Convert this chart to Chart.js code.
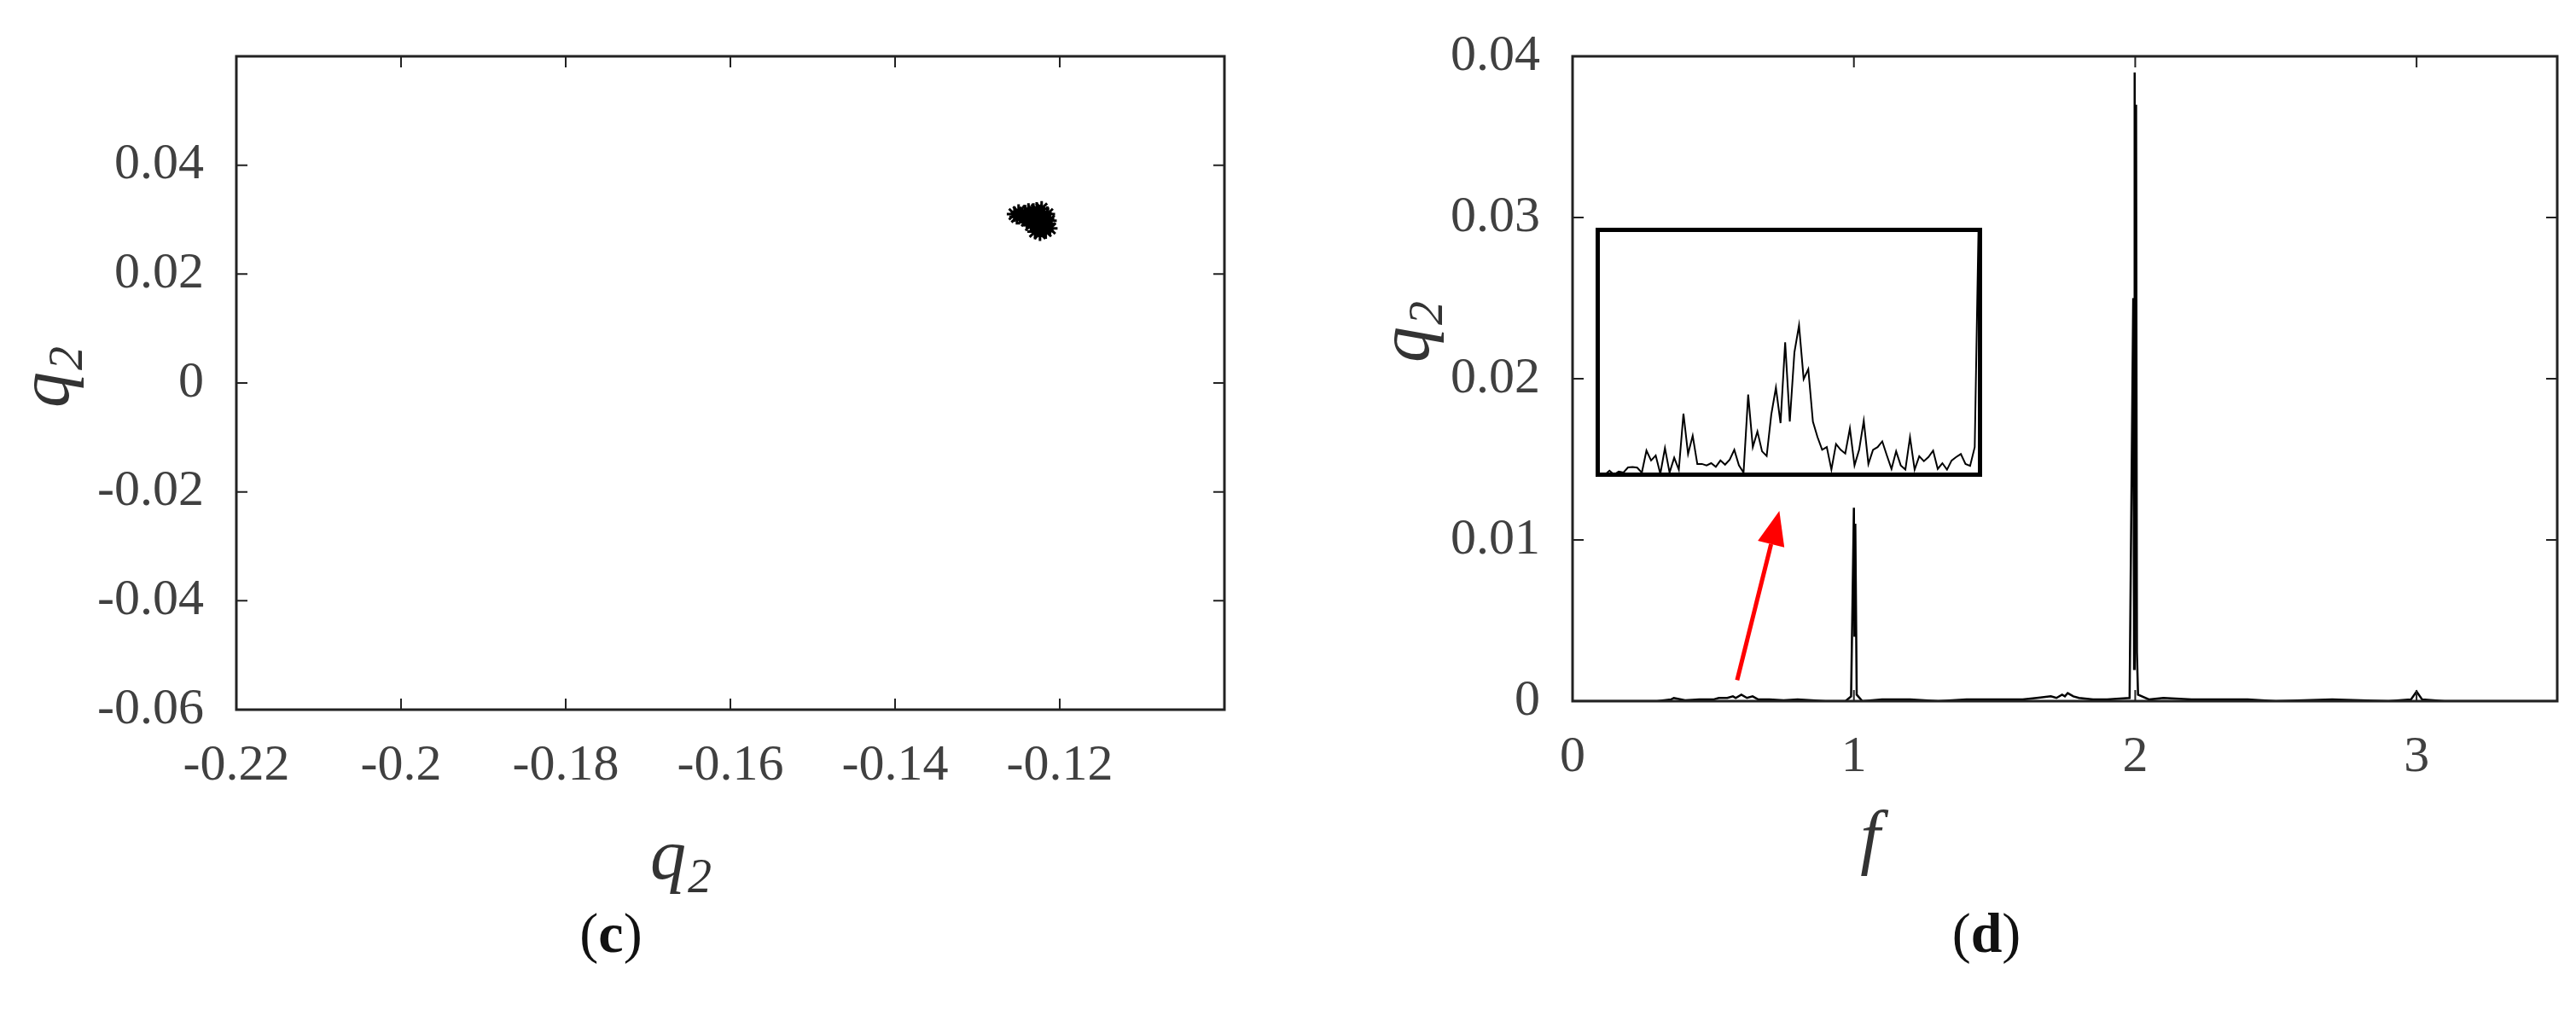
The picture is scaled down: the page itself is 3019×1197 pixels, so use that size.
<!DOCTYPE html>
<html><head><meta charset="utf-8">
<script src="https://cdn.jsdelivr.net/npm/chart.js@4/dist/chart.umd.min.js"></script>
<style>
body{margin:0;background:#fff;width:3019px;height:1197px;overflow:hidden;position:relative;font-family:"Liberation Serif",serif}
.w{position:absolute}
</style></head><body>
<div class="w" style="left:0;top:0;width:1500px;height:1197px"><canvas id="c1"></canvas></div>
<div class="w" style="left:1500px;top:0;width:1519px;height:1197px"><canvas id="c2"></canvas></div>
<div class="w" style="left:1870px;top:267px;width:453px;height:292px"><canvas id="c3"></canvas></div>
<script>
// Panel (c): phase portrait cluster
const phaseX = [-0.1255,-0.1250,-0.1246,-0.1242,-0.1238,-0.1252,-0.1244,-0.1236,-0.1232,-0.1228,-0.1224,-0.1220,-0.1216,-0.1213,-0.1230,-0.1226,-0.1222,-0.1218,-0.1214,-0.1234,-0.1228,-0.1222,-0.1217,-0.1212,-0.1230,-0.1224,-0.1219,-0.1226,-0.1220,-0.1240,-0.1235,-0.1229,-0.1215,-0.1222];
const phaseY = [0.0310,0.0314,0.0307,0.0313,0.0316,0.0305,0.0302,0.0309,0.0316,0.0318,0.0312,0.0308,0.0303,0.0298,0.0300,0.0295,0.0290,0.0287,0.0292,0.0294,0.0286,0.0282,0.0279,0.0284,0.0278,0.0275,0.0283,0.0305,0.0299,0.0298,0.0290,0.0310,0.0310,0.0320];
const xTicksC = [-0.22,-0.2,-0.18,-0.16,-0.14,-0.12];
const yTicksC = [-0.06,-0.04,-0.02,0,0.02,0.04];
// Panel (d): spectrum
const freqs = [0,0.2,0.3,0.35,0.36,0.4,0.45,0.5,0.52,0.55,0.57,0.58,0.6,0.62,0.64,0.66,0.7,0.75,0.8,0.9,0.97,0.99,0.995,1.0,1.002,1.005,1.01,1.03,1.1,1.2,1.3,1.4,1.5,1.55,1.6,1.65,1.7,1.72,1.74,1.75,1.76,1.78,1.8,1.85,1.9,1.98,1.993,1.996,1.998,2.0,2.003,2.006,2.01,2.05,2.1,2.2,2.3,2.4,2.5,2.7,2.9,2.98,3.0,3.02,3.1,3.3,3.5];
const amps = [0,0,0,0.0001,0.0002,0.00005,0.0001,0.0001,0.0002,0.0002,0.0003,0.0002,0.0004,0.0002,0.0003,0.0001,0.0001,0.00005,0.0001,0,0,0.0003,0.006,0.012,0.004,0.011,0.0004,0,0.0001,0.0001,0,0.0001,0.0001,0.0001,0.0001,0.0002,0.0003,0.0002,0.0004,0.0003,0.0005,0.0003,0.0002,0.0001,0.0001,0.0002,0.025,0.002,0.039,0.015,0.037,0.003,0.0004,0.0001,0.0002,0.0001,0.0001,0.0001,0,0.0001,0,0.0001,0.0006,0.0001,0,0,0];
const xTicksD = [0,1,2,3];
const yTicksD = [0,0.01,0.02,0.03,0.04];
// Inset: zoomed low-frequency band (relative amplitude)
const insetAmps = [0.6,0.3,1.9,0.3,1.5,1.1,3.2,3.4,3.1,1.1,10,6,8,0.6,11,1.1,7.1,2.3,24.9,8.6,16,4.6,4.6,4,4.9,3.4,6,4.3,6.3,10.3,4,1.1,32.6,11.4,17.7,9.7,7.8,24.6,35.4,21.1,53.7,21.7,49.7,60.6,38.9,42.9,21.7,15.4,10.3,11.4,2.3,12.6,10.3,8.8,18.9,4,10.3,22,4.6,10.3,11.4,13.7,8,2.6,9.7,4,2.3,15.4,2.3,7.7,5.7,7.4,10,2.6,4.9,2.3,6,7.4,8.6,4.6,3.8,11.4,120];

const FONT = '"Liberation Serif", serif';
const TICKCOL = '#404040';
function fmt(v){return String(Number(v.toFixed(3)));}

function frame(xt, yt, extra){
  return {id:'frame', afterDraw(ch){
    const c=ch.ctx, a=ch.chartArea, xs=ch.scales.x, ys=ch.scales.y;
    c.save(); c.strokeStyle='#222'; c.lineWidth=3;
    c.strokeRect(a.left,a.top,a.right-a.left,a.bottom-a.top);
    c.lineWidth=2; c.beginPath();
    xt.forEach(v=>{const p=xs.getPixelForValue(v); c.moveTo(p,a.bottom); c.lineTo(p,a.bottom-13); c.moveTo(p,a.top); c.lineTo(p,a.top+13);});
    yt.forEach(v=>{const p=ys.getPixelForValue(v); c.moveTo(a.left,p); c.lineTo(a.left+13,p); c.moveTo(a.right,p); c.lineTo(a.right-13,p);});
    c.stroke(); c.restore();
    if(extra) extra(ch);
  }};
}
function q2(c,x,y,rot){
  c.save(); c.translate(x,y); if(rot) c.rotate(-Math.PI/2);
  c.fillStyle='#333'; c.textBaseline='alphabetic';
  c.font='italic 84px '+FONT; c.textAlign='right'; c.fillText('q',4,20);
  c.font='italic 56px '+FONT; c.textAlign='left'; c.fillText('2',6,36);
  c.restore();
}
function label(c,x,y,letter){
  c.save(); c.fillStyle='#111'; c.textBaseline='middle';
  c.font='66px '+FONT; const w1=c.measureText('(').width;
  c.font='bold 66px '+FONT; const w2=c.measureText(letter).width;
  c.font='66px '+FONT; const w3=c.measureText(')').width;
  let s=x-(w1+w2+w3)/2; c.textAlign='left';
  c.fillText('(',s,y); c.font='bold 66px '+FONT; c.fillText(letter,s+w1,y);
  c.font='66px '+FONT; c.fillText(')',s+w1+w2,y); c.restore();
}
function axes(xmin,xmax,ymin,ymax,xstep,ystep,xw,yh,hideX,hideY){
  return {
    x:{type:'linear',min:xmin,max:xmax,grid:{display:false},border:{display:false},
       afterFit(s){s.height=yh;},
       ticks:{stepSize:xstep,includeBounds:false,padding:22,color:TICKCOL,font:{family:FONT,size:60},maxRotation:0,autoSkip:false,
         callback:v=>hideX(v)?'':fmt(v)}},
    y:{type:'linear',min:ymin,max:ymax,grid:{display:false},border:{display:false},
       afterFit(s){s.width=xw;},
       ticks:{stepSize:ystep,includeBounds:false,padding:30,color:TICKCOL,font:{family:FONT,size:60},autoSkip:false,
         callback:v=>hideY(v)?'':fmt(v)}}
  };
}
Chart.defaults.devicePixelRatio=1;

new Chart(document.getElementById('c1'),{
  type:'scatter',
  data:{datasets:[{data:phaseX.map((x,i)=>({x,y:phaseY[i]})),pointStyle:'star',pointRadius:9,borderColor:'#000',backgroundColor:'#000',borderWidth:3}]},
  options:{responsive:true,maintainAspectRatio:false,animation:false,
    layout:{padding:{left:0,right:65,top:43,bottom:0}},
    plugins:{legend:{display:false},tooltip:{enabled:false}},
    scales:axes(-0.22,-0.10,-0.06,0.06,0.02,0.02,277,365,v=>v>-0.11,v=>v>0.05)},
  plugins:[frame(xTicksC,yTicksC,ch=>{const c=ch.ctx; q2(c,800,1010,false); q2(c,60,440,true); label(c,716,1099,'c');})]
});

new Chart(document.getElementById('c2'),{
  type:'scatter',
  data:{datasets:[{data:freqs.map((x,i)=>({x,y:amps[i]})),showLine:true,pointRadius:0,borderColor:'#000',borderWidth:2.5,tension:0}]},
  options:{responsive:true,maintainAspectRatio:false,animation:false,
    layout:{padding:{left:0,right:22,top:43,bottom:0}},
    plugins:{legend:{display:false},tooltip:{enabled:false}},
    scales:axes(0,3.5,0,0.04,1,0.01,343,375,v=>v>3.2,v=>false)},
  plugins:[frame(xTicksD,yTicksD,ch=>{
    const c=ch.ctx, xs=ch.scales.x, ys=ch.scales.y;
    q2(c,1649-1500+5,387,true);
    c.save(); c.fillStyle='#333'; c.font='italic 84px '+FONT; c.textAlign='center'; c.textBaseline='middle'; c.fillText('f',2192-1500,987); c.restore();
    label(c,2328-1500,1099,'d');
    // arrow
    const x0=xs.getPixelForValue(0.585), y0=ys.getPixelForValue(0.0013);
    const x1=xs.getPixelForValue(0.735), y1=ys.getPixelForValue(0.0118);
    const ang=Math.atan2(y1-y0,x1-x0);
    c.save(); c.strokeStyle='#ff0000'; c.fillStyle='#ff0000'; c.lineWidth=5;
    const hx=x1-40*Math.cos(ang), hy=y1-40*Math.sin(ang);
    c.beginPath(); c.moveTo(x0,y0); c.lineTo(hx,hy); c.stroke();
    c.beginPath(); c.moveTo(x1,y1);
    c.lineTo(hx+16*Math.sin(ang),hy-16*Math.cos(ang));
    c.lineTo(hx-16*Math.sin(ang),hy+16*Math.cos(ang)); c.closePath(); c.fill();
    c.restore();
  })]
});

new Chart(document.getElementById('c3'),{
  type:'scatter',
  data:{datasets:[{data:insetAmps.map((y,i)=>({x:i,y})),showLine:true,pointRadius:0,borderColor:'#000',borderWidth:2,tension:0}]},
  options:{responsive:true,maintainAspectRatio:false,animation:false,
    layout:{padding:0},
    plugins:{legend:{display:false},tooltip:{enabled:false}},
    scales:{x:{type:'linear',display:false,min:-1,max:82.6},y:{type:'linear',display:false,min:-0.6,max:100}}},
  plugins:[{id:'box',afterDraw(ch){const c=ch.ctx,w=ch.width,h=ch.height;c.save();c.strokeStyle='#000';c.lineWidth=5;c.strokeRect(2.5,2.5,w-5,h-5);c.restore();}}]
});
</script></body></html>
